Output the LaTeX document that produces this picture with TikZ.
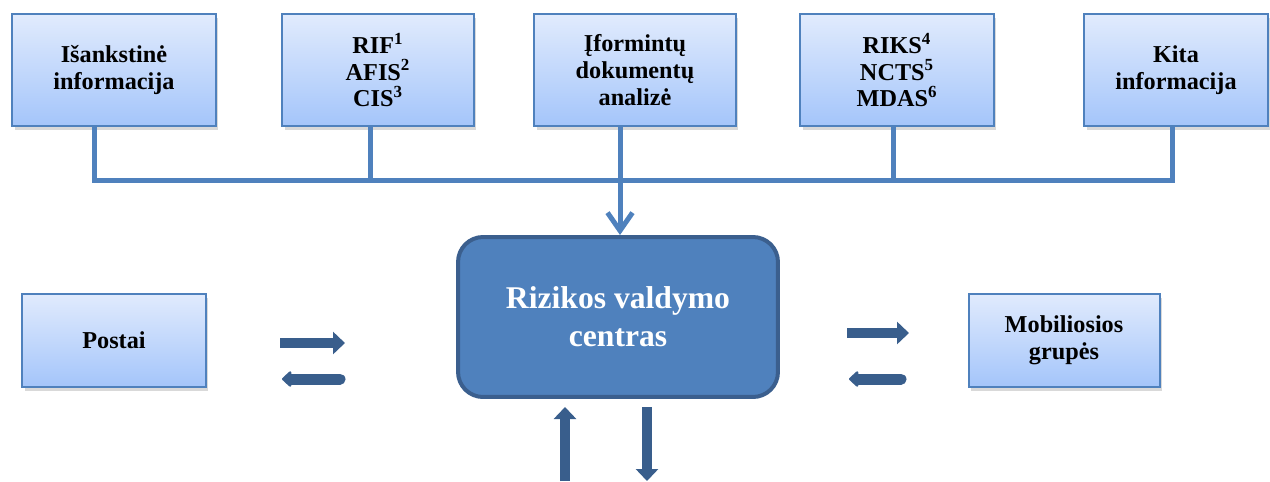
\documentclass[tikz,border=0pt]{standalone}
\usepackage{fontspec}
\setmainfont{Liberation Serif}
\usetikzlibrary{arrows.meta,shadows}
\definecolor{boxtop}{HTML}{E1EBFD}
\definecolor{boxbot}{HTML}{A4C5FA}
\definecolor{boxline}{HTML}{4F81BD}
\definecolor{hubfill}{HTML}{4F81BD}
\definecolor{hubline}{HTML}{3B5F8E}
\definecolor{flowblue}{HTML}{395E8C}
\tikzset{
  infobox/.style={draw=boxline, line width=0.04cm, top color=boxtop, bottom color=boxbot,
    minimum height=2.24cm, align=center, inner sep=0pt,
    font=\bfseries\fontsize{13.8}{15.3}\selectfont,
    drop shadow={shadow xshift=0.05cm, shadow yshift=-0.08cm, opacity=0.3}},
  hub/.style={draw=hubline, fill=hubfill, line width=0.08cm, rounded corners=0.5cm,
    minimum width=6.4cm, minimum height=3.2cm, align=center, inner sep=0pt,
    text=white, font=\bfseries\fontsize{18}{21.5}\selectfont},
  bus/.style={draw=boxline, line width=0.1cm},
  flow/.style={flowblue, line width=0.2cm, -{Triangle[length=0.24cm,width=0.44cm]}},
  backflow/.style={flowblue, line width=0.22cm, line cap=round,
    -{Triangle[length=0.2cm,width=0.36cm,round]}}
}
\begin{document}
\begin{tikzpicture}[x=0.02cm,y=-0.02cm]
    \useasboundingbox (0,0) rectangle (1270,481);

    % information sources
    \node[infobox, minimum width=4.08cm] (isank) at (114,70) {Išankstinė\\informacija};
    \node[infobox, minimum width=3.84cm] (rif) at (378,70) {RIF\textsuperscript{1}\\AFIS\textsuperscript{2}\\CIS\textsuperscript{3}};
    \node[infobox, minimum width=4.04cm] (iform) at (635,70) {Įformintų\\dokumentų\\analizė};
    \node[infobox, minimum width=3.88cm] (riks) at (897,70) {RIKS\textsuperscript{4}\\NCTS\textsuperscript{5}\\MDAS\textsuperscript{6}};
    \node[infobox, minimum width=3.68cm] (kita) at (1176,70) {Kita\\informacija};

    % centre and sides
    \node[hub] (rvc) at (618,317) {Rizikos valdymo\\centras};
    \node[infobox, minimum width=3.68cm, minimum height=1.86cm] (postai) at (114,340) {Postai};
    \node[infobox, minimum width=3.82cm, minimum height=1.86cm] (mob) at (1064,340) {Mobiliosios\\grupės};

    % bus
    \coordinate (j1) at (94,180);
    \coordinate (j2) at (370,180);
    \coordinate (j3) at (620,180);
    \coordinate (j4) at (893,180);
    \coordinate (j5) at (1172,180);
    \draw[bus] (isank.south -| j1) -- (j1) -- (j5) -- (kita.south -| j5);
    \draw[bus] (rif.south -| j2) -- (j2);
    \draw[bus] (riks.south -| j4) -- (j4);
    \draw[bus, -{Straight Barb[length=0.36cm,width=0.5cm]}] (iform.south -| j3) -- (rvc.north -| j3); %to centre

    % block arrows
    \coordinate (pa) at (280,343);
    \coordinate (pb) at (345,343);
    \coordinate (pc) at (340,379);
    \coordinate (pd) at (282,379);
    \draw[flow] (pa) -- (pb);
    \draw[backflow] (pc) -- (pd);

    \coordinate (ma) at (847,333);
    \coordinate (mb) at (909,333);
    \coordinate (mc) at (901,379);
    \coordinate (md) at (849,379);
    \draw[flow] (ma) -- (mb);
    \draw[backflow] (mc) -- (md);

    \coordinate (ua) at (565,481);
    \coordinate (ub) at (565,407);
    \coordinate (da) at (647,407);
    \coordinate (db) at (647,481);
    \draw[flow] (ua) -- (ub);
    \draw[flow] (da) -- (db);
\end{tikzpicture}
\end{document}
